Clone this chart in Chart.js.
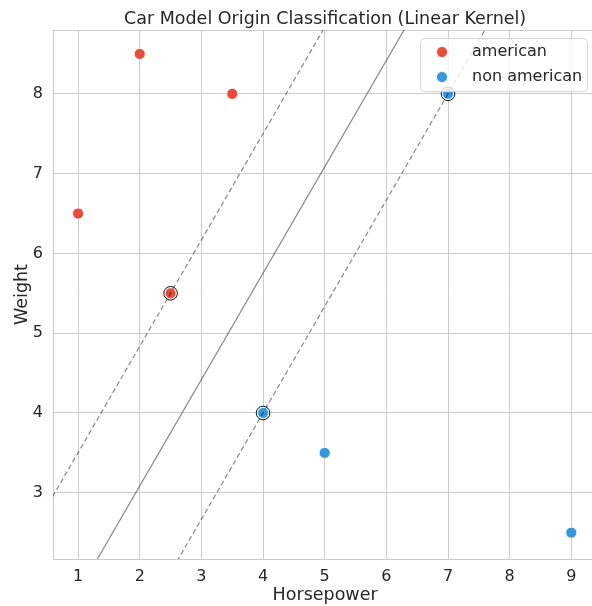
<!DOCTYPE html>
<html>
<head>
<meta charset="utf-8">
<script src="https://cdn.jsdelivr.net/npm/chart.js@4"></script>
<style>
  html, body { margin: 0; padding: 0; background: #fff; overflow: hidden; }
  #wrap { width: 605px; height: 606px; position: relative; }
</style>
</head>
<body>
<div id="wrap"><canvas id="c"></canvas></div>
<script>
// ---- data ----
const americanX = [1, 2, 3.5, 2.5];
const americanY = [6.5, 8.5, 8, 5.5];
const nonAmericanX = [4, 5, 7, 9];
const nonAmericanY = [4, 3.5, 8, 2.5];
const supportX = [2.5, 4, 7];
const supportY = [5.5, 4, 8];
// decision boundary and margins (two end points each)
const lineX = [0, 10];
const boundaryY = [0.42, 13.75];
const upperMarginY = [2.17, 15.5];
const lowerMarginY = [-1.33, 12];
const xTicks = [1, 2, 3, 4, 5, 6, 7, 8, 9];
const yTicks = [3, 4, 5, 6, 7, 8];
const legendLabels = ['american', 'non american'];

const RED = '#e74c3c', BLUE = '#3498db', TEXT = '#262626', GRID = '#cccccc';
const FONT = 'DejaVu Sans';

const pts = (xs, ys) => xs.map((x, i) => ({ x, y: ys[i] }));

const legendPlugin = {
  id: 'boxLegend',
  afterDraw(chart) {
    const ctx = chart.ctx;
    ctx.save();
    const x0 = 420, y0 = 38, w = 167, h = 53, r = 4;
    ctx.beginPath();
    ctx.roundRect(x0 + 0.5, y0 + 0.5, w, h, r);
    ctx.fillStyle = 'rgba(255,255,255,0.8)';
    ctx.fill();
    ctx.strokeStyle = '#d6d6d6';
    ctx.lineWidth = 1;
    ctx.stroke();
    const colors = [RED, BLUE];
    ctx.font = '16px "' + FONT + '"';
    ctx.textBaseline = 'middle';
    ctx.textAlign = 'left';
    legendLabels.forEach((lab, i) => {
      const cy = 52 + i * 25;
      ctx.beginPath();
      ctx.arc(442, cy, 5.5, 0, Math.PI * 2);
      ctx.fillStyle = colors[i];
      ctx.fill();
      ctx.lineWidth = 0.75;
      ctx.strokeStyle = '#fff';
      ctx.stroke();
      ctx.fillStyle = TEXT;
      ctx.fillText(lab, 472, cy);
    });
    ctx.restore();
  }
};

const topSpine = {
  id: 'topSpine',
  afterLayout(chart) {
    // centre the title over the plotting area, like matplotlib
    if (chart.titleBlock) {
      chart.titleBlock.left = chart.chartArea.left;
      chart.titleBlock.right = chart.chartArea.right;
    }
  },
  beforeDatasetsDraw(chart) {
    const { ctx, chartArea } = chart;
    ctx.save();
    ctx.strokeStyle = GRID;
    ctx.lineWidth = 1;
    ctx.beginPath();
    ctx.moveTo(chartArea.left, Math.round(chartArea.top) + 0.5);
    ctx.lineTo(chartArea.right, Math.round(chartArea.top) + 0.5);
    ctx.stroke();
    ctx.restore();
  }
};

const lineDs = (ys, dash, width) => ({
  type: 'line',
  data: pts(lineX, ys),
  borderColor: 'rgba(0,0,0,0.47)',
  borderWidth: width,
  borderDash: dash,
  pointRadius: 0,
  fill: false,
  tension: 0
});

new Chart(document.getElementById('c'), {
  type: 'scatter',
  data: {
    datasets: [
      lineDs(boundaryY, [], 1.2),
      lineDs(upperMarginY, [5, 3], 1.2),
      lineDs(lowerMarginY, [5, 3], 1.2),
      {
        label: 'support vectors',
        data: pts(supportX, supportY),
        pointRadius: 6.8,
        pointBackgroundColor: 'rgba(0,0,0,0)',
        pointBorderColor: '#111',
        pointBorderWidth: 1
      },
      {
        label: legendLabels[0],
        data: pts(americanX, americanY),
        pointRadius: 5.5,
        pointBackgroundColor: RED,
        pointBorderColor: '#fff',
        pointBorderWidth: 0.75
      },
      {
        label: legendLabels[1],
        data: pts(nonAmericanX, nonAmericanY),
        pointRadius: 5.5,
        pointBackgroundColor: BLUE,
        pointBorderColor: '#fff',
        pointBorderWidth: 0.75
      }
    ]
  },
  options: {
    responsive: true,
    maintainAspectRatio: false,
    animation: false,
    layout: { padding: 0 },
    plugins: {
      legend: { display: false },
      tooltip: { enabled: false },
      title: {
        display: true,
        text: 'Car Model Origin Classification (Linear Kernel)',
        color: TEXT,
        font: { family: FONT, size: 17.5, weight: 'normal' },
        padding: { top: 9, bottom: 0 }
      }
    },
    scales: {
      x: {
        type: 'linear',
        min: 0.593,
        max: 9.42,
        afterFit(s) { s.height = 47; s.paddingLeft = 0; s.paddingRight = 0; },
        afterBuildTicks(s) { s.ticks = xTicks.map(v => ({ value: v })); },
        ticks: { color: TEXT, font: { family: FONT, size: 16 }, padding: 8, includeBounds: false },
        grid: { color: GRID, lineWidth: 1, drawTicks: false },
        border: { display: true, color: GRID, width: 1 },
        title: { display: true, text: 'Horsepower', color: TEXT, font: { family: FONT, size: 17.5 }, padding: { top: 0, bottom: 0 } }
      },
      y: {
        type: 'linear',
        min: 2.17,
        max: 8.8,
        afterFit(s) { s.width = 53; s.paddingTop = 0; s.paddingBottom = 0; },
        afterBuildTicks(s) { s.ticks = yTicks.map(v => ({ value: v })); },
        ticks: { color: TEXT, font: { family: FONT, size: 16 }, padding: 10, includeBounds: false },
        grid: { color: GRID, lineWidth: 1, drawTicks: false },
        border: { display: true, color: GRID, width: 1 },
        title: { display: true, text: 'Weight', color: TEXT, font: { family: FONT, size: 17.5 }, padding: { top: 12, bottom: 0 } }
      }
    }
  },
  plugins: [topSpine, legendPlugin]
});
</script>
</body>
</html>
